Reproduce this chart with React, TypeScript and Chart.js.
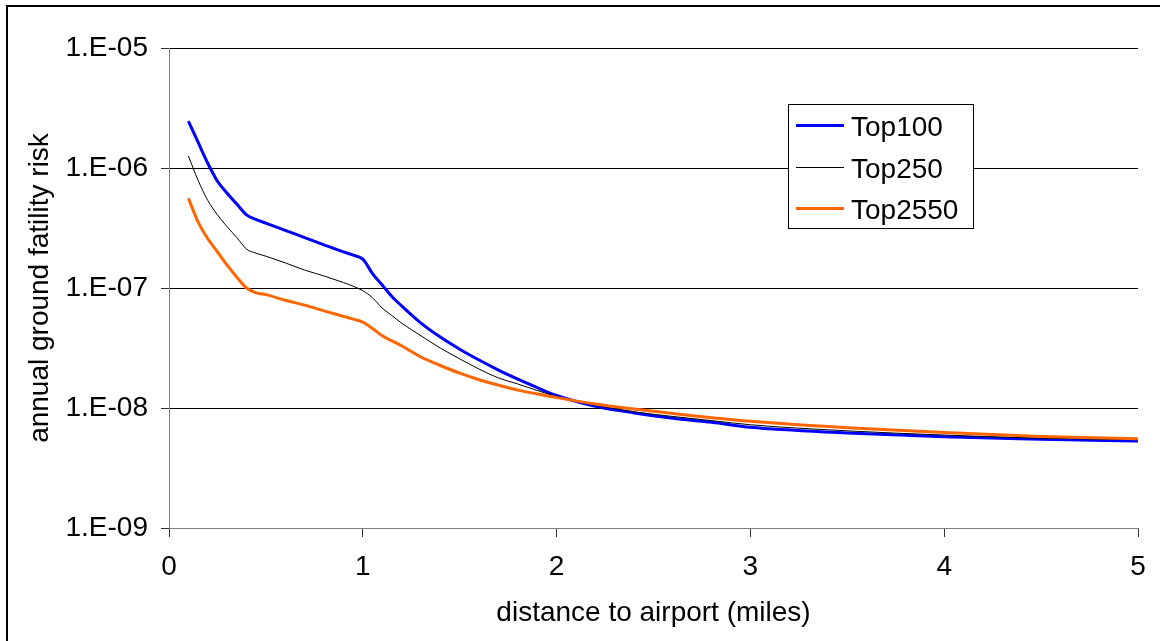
import React, { useEffect, useRef } from 'react';
import { Chart, registerables } from 'chart.js';

Chart.register(...registerables);

// ---- data ----
const distances = [0.1, 0.15, 0.2, 0.25, 0.3, 0.35, 0.4, 0.45, 0.5, 0.6, 0.7, 0.8, 0.9, 0.95, 1.0, 1.05, 1.1, 1.15, 1.2, 1.3, 1.4, 1.5, 1.6, 1.7, 1.8, 1.9, 2.0, 2.2, 2.4, 2.6, 2.8, 3.0, 3.5, 4.0, 4.5, 5.0];

const top100 = [2.455e-6, 1.64e-6, 1.096e-6, 7.76e-7, 6.17e-7, 5.0e-7, 4.07e-7, 3.72e-7, 3.47e-7, 3.02e-7, 2.63e-7, 2.29e-7, 2.0e-7, 1.88e-7, 1.74e-7, 1.32e-7, 1.06e-7, 8.5e-8, 7.1e-8, 5.1e-8, 3.9e-8, 3.09e-8, 2.51e-8, 2.07e-8, 1.74e-8, 1.48e-8, 1.27e-8, 1.035e-8, 9.1e-9, 8.2e-9, 7.6e-9, 6.9e-9, 6.2e-9, 5.75e-9, 5.5e-9, 5.3e-9];

const top250 = [1.26e-6, 7.9e-7, 5.37e-7, 4.07e-7, 3.24e-7, 2.63e-7, 2.11e-7, 1.95e-7, 1.84e-7, 1.62e-7, 1.41e-7, 1.26e-7, 1.11e-7, 1.035e-7, 9.5e-8, 8.3e-8, 6.8e-8, 5.9e-8, 5.1e-8, 4.0e-8, 3.16e-8, 2.57e-8, 2.11e-8, 1.78e-8, 1.585e-8, 1.4e-8, 1.245e-8, 1.06e-8, 9.3e-9, 8.5e-9, 7.85e-9, 7.25e-9, 6.45e-9, 5.95e-9, 5.6e-9, 5.45e-9];

const top2550 = [5.6e-7, 3.55e-7, 2.57e-7, 2.0e-7, 1.55e-7, 1.23e-7, 1.0e-7, 9.1e-8, 8.8e-8, 7.9e-8, 7.2e-8, 6.45e-8, 5.8e-8, 5.5e-8, 5.2e-8, 4.6e-8, 4.0e-8, 3.63e-8, 3.3e-8, 2.66e-8, 2.26e-8, 1.95e-8, 1.72e-8, 1.55e-8, 1.41e-8, 1.31e-8, 1.22e-8, 1.08e-8, 9.8e-9, 9.0e-9, 8.3e-9, 7.75e-9, 6.85e-9, 6.25e-9, 5.8e-9, 5.55e-9];

const seriesLabels = ['Top100', 'Top250', 'Top2550'];
const yTickValues = [1e-9, 1e-8, 1e-7, 1e-6, 1e-5];
const yTickLabels = ['1.E-09', '1.E-08', '1.E-07', '1.E-06', '1.E-05'];
const xTickValues = [0, 1, 2, 3, 4, 5];
const xTitle = 'distance to airport (miles)';
const yTitle = 'annual ground fatility risk';

// ---- styles ----
const FONT = '"Liberation Sans", Arial, Helvetica, sans-serif';
const FONT_SIZE = 28;
const colors = ['#0000FF', '#000000', '#FF6600'];
const widths = [3, 1, 3];

const toPoints = (ys: number[]) => distances.map((x, i) => ({ x, y: ys[i] }));

const framePlugin = {
  id: 'frame',
  beforeDraw(chart: any) {
    const { ctx, width, height } = chart;
    ctx.save();
    ctx.fillStyle = '#ffffff';
    ctx.fillRect(0, 0, width, height);
    ctx.strokeStyle = '#000000';
    ctx.lineWidth = 2;
    ctx.strokeRect(7, 6, width + 50, height + 50);
    ctx.restore();
  },
};

const boxLegendPlugin = {
  id: 'boxLegend',
  afterDatasetsDraw(chart: any) {
    const { ctx, chartArea } = chart;
    const x0 = chartArea.left + 619;
    const y0 = chartArea.top + 56;
    const w = 185;
    const h = 124;
    ctx.save();
    ctx.fillStyle = '#ffffff';
    ctx.fillRect(x0, y0, w, h);
    ctx.strokeStyle = '#000000';
    ctx.lineWidth = 1;
    ctx.strokeRect(x0 + 0.5, y0 + 0.5, w, h);
    const rowOffsets = [21.5, 63.5, 104.5];
    seriesLabels.forEach((label, i) => {
      const y = y0 + rowOffsets[i];
      ctx.strokeStyle = colors[i];
      ctx.lineWidth = widths[i];
      ctx.beginPath();
      ctx.moveTo(x0 + 8, y);
      ctx.lineTo(x0 + 56, y);
      ctx.stroke();
      ctx.fillStyle = '#000000';
      ctx.font = `${FONT_SIZE}px ${FONT}`;
      ctx.textAlign = 'left';
      ctx.textBaseline = 'alphabetic';
      ctx.fillText(label, x0 + 63, y + 10.3);
    });
    ctx.restore();
  },
};

export default function App() {
  const ref = useRef<HTMLCanvasElement | null>(null);

  useEffect(() => {
    if (!ref.current) return;
    const datasets = [top100, top250, top2550].map((ys, i) => ({
      label: seriesLabels[i],
      data: toPoints(ys),
      borderColor: colors[i],
      backgroundColor: colors[i],
      borderWidth: widths[i],
      pointRadius: 0,
      pointHoverRadius: 0,
      fill: false,
      cubicInterpolationMode: 'monotone' as const,
      borderJoinStyle: 'round' as const,
      order: 2 - i,
    }));

    const chart = new Chart(ref.current, {
      type: 'line',
      data: { datasets },
      options: {
        animation: false,
        responsive: false,
        devicePixelRatio: 1,
        layout: { padding: { left: 0, top: 48, right: 22, bottom: 0 } },
        plugins: {
          legend: { display: false },
          tooltip: { enabled: false },
        },
        scales: {
          x: {
            type: 'linear',
            min: 0,
            max: 5,
            afterBuildTicks: (scale: any) => {
              scale.ticks = xTickValues.map((v) => ({ value: v }));
            },
            afterFit: (scale: any) => {
              scale.height = 113;
            },
            ticks: {
              color: '#000',
              padding: 13,
              font: { family: FONT, size: FONT_SIZE },
              maxRotation: 0,
              callback: (v: any) => String(v),
            },
            grid: {
              drawOnChartArea: false,
              drawTicks: true,
              tickLength: 9,
              color: '#333333',
              tickColor: '#333333',
            },
            border: { display: true, color: '#808080', width: 1 },
            title: {
              display: true,
              text: xTitle,
              color: '#000',
              font: { family: FONT, size: FONT_SIZE },
              padding: { top: 0, bottom: 10.6 },
            },
          },
          y: {
            type: 'logarithmic',
            min: 1e-9,
            max: 1e-5,
            afterBuildTicks: (scale: any) => {
              scale.ticks = yTickValues.map((v) => ({ value: v }));
            },
            afterFit: (scale: any) => {
              scale.width = 169;
            },
            ticks: {
              color: '#000',
              padding: 13,
              font: { family: FONT, size: FONT_SIZE },
              callback: (v: any) => {
                const idx = yTickValues.findIndex((t) => Math.abs(Math.log10(t) - Math.log10(Number(v))) < 1e-6);
                return idx >= 0 ? yTickLabels[idx] : '';
              },
            },
            grid: {
              drawOnChartArea: true,
              drawTicks: true,
              tickLength: 8,
              color: (ctx: any) => (ctx.tick && Math.abs(ctx.tick.value - 1e-9) < 1e-15 ? '#808080' : '#000000'),
              tickColor: '#333333',
            },
            border: { display: true, color: '#808080', width: 1 },
            title: {
              display: true,
              text: yTitle,
              color: '#000',
              font: { family: FONT, size: FONT_SIZE },
              padding: { top: 23.2, bottom: 0 },
            },
          },
        },
      },
      plugins: [framePlugin, boxLegendPlugin],
    } as any);

    return () => chart.destroy();
  }, []);

  return (
    <div style={{ position: 'fixed', left: 0, top: 0, width: 1160, height: 641, background: '#fff', overflow: 'hidden' }}>
      <canvas ref={ref} width={1160} height={641} style={{ display: 'block', width: 1160, height: 641 }} />
    </div>
  );
}
